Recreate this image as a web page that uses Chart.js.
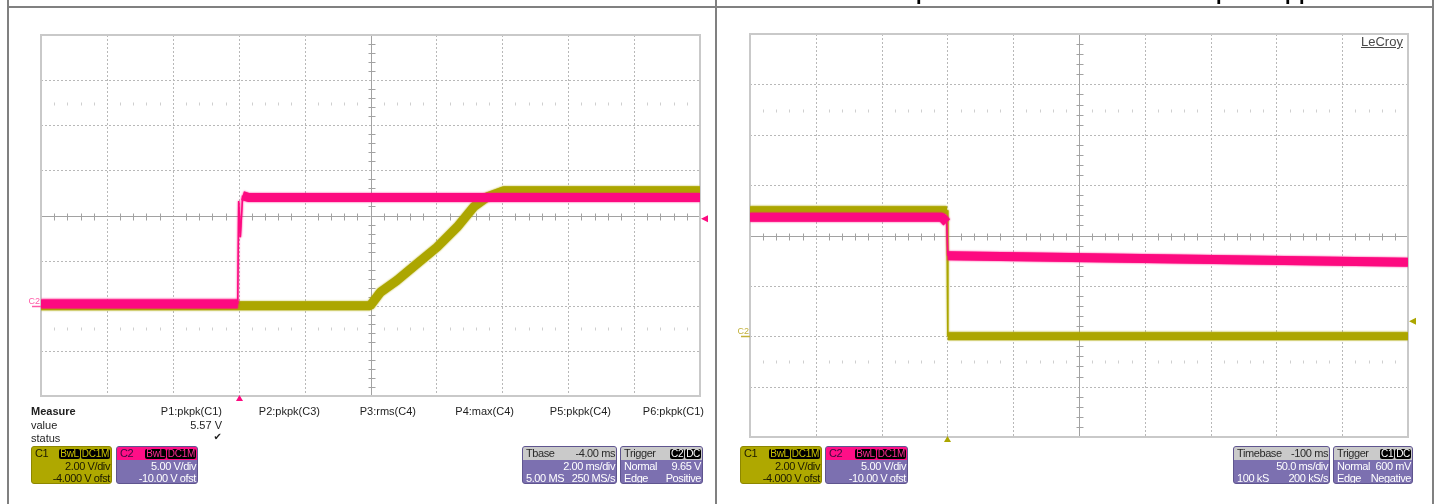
<!DOCTYPE html>
<html>
<head>
<meta charset="utf-8">
<title>Scope captures</title>
<script src="https://cdn.jsdelivr.net/npm/chart.js@4.4.1/dist/chart.umd.min.js"></script>
<style>
  body { margin: 0; background: #fff; }
  #page { position: relative; width: 1437px; height: 504px; overflow: hidden; font-family: "Liberation Sans", Arial, sans-serif; }
  canvas { position: absolute; top: 0; }
  .rule { position: absolute; background: #808080; }
  .head { position: absolute; top: 0; left: 0; width: 1437px; height: 5px; overflow: hidden; }
  .head span { position: absolute; top: -17px; font: bold 20px "Liberation Sans", Arial, sans-serif; line-height: 20px; color: #000; }
  .m { position: absolute; font-size: 11px; line-height: 12px; color: #1e1e1e; white-space: nowrap; }
  .m.r { text-align: right; }
  .logo { position: absolute; left: 1361px; top: 35px; font-size: 13px; line-height: 14px; color: #4a4a4a; text-decoration: underline; background: #fff; }
  .box { position: absolute; top: 446px; height: 38px; box-sizing: border-box; border-radius: 3px; overflow: hidden;
         font-size: 11px; letter-spacing: -0.4px; color: #fff; }
  .box .hd, .box .rw { display: flex; justify-content: space-between; align-items: center; padding: 0 1px 0 3px; white-space: nowrap; }
  .box .hd { height: 13px; line-height: 13px; }
  .box .rw { height: 12px; line-height: 12px; }
  .box .end { justify-content: flex-end; }
  .tag { display: inline-block; background: #000; border-radius: 2px; padding: 0 1px; margin-left: 1px; font-size: 10px; line-height: 10px; letter-spacing: -0.3px; }
  .ch1 { background: #afa800; border: 1px solid #8d8700; color: #1c1a00; }
  .ch1 .tag { color: #c9c000; }
  .ch2 { background: #7c70b0; border: 1px solid #5f558f; }
  .ch2 .hd { background: #ff0f87; color: #3a0a3e; }
  .ch2 .tag { color: #ff2a95; }
  .info { background: #7c70b0; border: 1px solid #5f558f; }
  .info .hd { background: #cacaca; color: #2a2a2a; }
  .info .tag { color: #fff; }
</style>
</head>
<body>
<div id="page">
  <canvas id="scopeLeft" width="716" height="504" style="left:0"></canvas>
  <canvas id="scopeRight" width="720" height="504" style="left:717px"></canvas>

  <div class="head"><span style="left:916px">p</span><span style="left:1216px">p</span><span style="left:1285px">p</span><span style="left:1299px">p</span></div>
  <div class="rule" style="left:7px;top:6px;width:1427px;height:2px"></div>
  <div class="rule" style="left:7px;top:0;width:2px;height:504px"></div>
  <div class="rule" style="left:715px;top:0;width:2px;height:504px"></div>
  <div class="rule" style="left:1432px;top:0;width:2px;height:504px"></div>

  <div class="logo">LeCroy</div>

  <!-- measurement table, left capture -->
  <div class="m" style="left:31px;top:405px;font-weight:bold">Measure</div>
  <div class="m" style="left:31px;top:419px">value</div>
  <div class="m" style="left:31px;top:432px">status</div>
  <div class="m r" style="left:142px;width:80px;top:405px">P1:pkpk(C1)</div>
  <div class="m r" style="left:142px;width:80px;top:419px">5.57 V</div>
  <div class="m r" style="left:142px;width:80px;top:431px;font-family:'DejaVu Sans';font-size:10px">&#10004;</div>
  <div class="m r" style="left:240px;width:80px;top:405px">P2:pkpk(C3)</div>
  <div class="m r" style="left:336px;width:80px;top:405px">P3:rms(C4)</div>
  <div class="m r" style="left:434px;width:80px;top:405px">P4:max(C4)</div>
  <div class="m r" style="left:531px;width:80px;top:405px">P5:pkpk(C4)</div>
  <div class="m r" style="left:624px;width:80px;top:405px">P6:pkpk(C1)</div>

  <!-- channel / timebase / trigger boxes, left capture -->
  <div class="box ch1" style="left:31px;width:81px">
    <div class="hd"><span>C1</span><span><span class="tag">BwL</span><span class="tag">DC1M</span></span></div>
    <div class="rw end">2.00 V/div</div>
    <div class="rw end">-4.000 V ofst</div>
  </div>
  <div class="box ch2" style="left:116px;width:82px">
    <div class="hd"><span>C2</span><span><span class="tag">BwL</span><span class="tag">DC1M</span></span></div>
    <div class="rw end">5.00 V/div</div>
    <div class="rw end">-10.00 V ofst</div>
  </div>
  <div class="box info" style="left:522px;width:95px">
    <div class="hd"><span>Tbase</span><span>-4.00 ms</span></div>
    <div class="rw end">2.00 ms/div</div>
    <div class="rw"><span>5.00 MS</span><span>250 MS/s</span></div>
  </div>
  <div class="box info" style="left:620px;width:83px">
    <div class="hd"><span>Trigger</span><span><span class="tag">C2</span><span class="tag">DC</span></span></div>
    <div class="rw"><span>Normal</span><span>9.65 V</span></div>
    <div class="rw"><span>Edge</span><span>Positive</span></div>
  </div>

  <!-- channel / timebase / trigger boxes, right capture -->
  <div class="box ch1" style="left:740px;width:82px">
    <div class="hd"><span>C1</span><span><span class="tag">BwL</span><span class="tag">DC1M</span></span></div>
    <div class="rw end">2.00 V/div</div>
    <div class="rw end">-4.000 V ofst</div>
  </div>
  <div class="box ch2" style="left:825px;width:83px">
    <div class="hd"><span>C2</span><span><span class="tag">BwL</span><span class="tag">DC1M</span></span></div>
    <div class="rw end">5.00 V/div</div>
    <div class="rw end">-10.00 V ofst</div>
  </div>
  <div class="box info" style="left:1233px;width:97px">
    <div class="hd"><span>Timebase</span><span>-100 ms</span></div>
    <div class="rw end">50.0 ms/div</div>
    <div class="rw"><span>100 kS</span><span>200 kS/s</span></div>
  </div>
  <div class="box info" style="left:1333px;width:80px">
    <div class="hd"><span>Trigger</span><span><span class="tag">C1</span><span class="tag">DC</span></span></div>
    <div class="rw"><span>Normal</span><span>600 mV</span></div>
    <div class="rw"><span>Edge</span><span>Negative</span></div>
  </div>
</div>

<script>
// ---- left capture: 2 ms/div, time in ms relative to trigger ----
const leftTimeRange = [-6, 14];
const leftC1Time  = [-6, 3.99, 4.3, 4.8, 5.41, 6.02, 6.63, 7.14, 7.55, 8.05, 14];
const leftC1Volts = [0, 0, 0.6, 1.12, 1.86, 2.6, 3.49, 4.39, 4.83, 5.1, 5.1];
const leftC2Time  = [-6, -0.03, 0, 0.05, 0.12, 0.3, 14];
const leftC2Volts = [0.2, 0.2, 11.6, 7.6, 12.2, 12.0, 12.0];
const leftTrigger = { time: 0, level: 9.65, channel: 'C2' };

// ---- right capture: 50 ms/div ----
const rightTimeRange = [-150, 350];
const rightC1Time  = [-150, -0.3, 0.3, 350];
const rightC1Volts = [5.0, 5.0, 0.0, 0.0];
const rightC2Time  = [-150, -4, -0.5, 0.3, 350];
const rightC2Volts = [11.8, 11.8, 11.3, 8.0, 7.35];
const rightTrigger = { time: 0, level: 0.6, channel: 'C1' };

// vertical settings (V/div, offset) -> 8 divisions
const c1Range = [-4, 12];
const c2Range = [-10, 30];

const OLIVE = '#aca600';
const MAGENTA = '#fd0a80';

function zip(xs, ys) {
  return xs.map((x, i) => ({ x: x, y: ys[i] }));
}

// thick noisy band, but thin on the fast edges
function bandWidth(c, band) {
  const dx = Math.abs(c.p1.x - c.p0.x), dy = Math.abs(c.p1.y - c.p0.y);
  return dy > 4 * dx ? 1.5 : band;
}

const scopeGrid = {
  id: 'scopeGrid',
  beforeDatasetsDraw(chart) {
    const { ctx, chartArea: a, scales } = chart;
    const x = scales.x, y = scales.y;
    const xDiv = (x.max - x.min) / 10, yDiv = (y.max - y.min) / 8;
    const px = v => Math.round(x.getPixelForValue(v)) + 0.5;
    const py = v => Math.round(y.getPixelForValue(v)) + 0.5;
    const seg = (x0, y0, x1, y1) => { ctx.beginPath(); ctx.moveTo(x0, y0); ctx.lineTo(x1, y1); ctx.stroke(); };

    ctx.save();
    ctx.lineWidth = 1;
    // dotted major divisions
    ctx.strokeStyle = '#b8b8b8';
    ctx.setLineDash([2, 2]);
    for (let i = 1; i < 10; i++) if (i !== 5) seg(px(x.min + i * xDiv), a.top, px(x.min + i * xDiv), a.bottom);
    for (let j = 1; j < 8; j++) if (j !== 4) seg(a.left, py(y.min + j * yDiv), a.right, py(y.min + j * yDiv));
    ctx.setLineDash([]);

    // centre axes with minor ticks
    const cx = px(x.min + 5 * xDiv), cy = py(y.min + 4 * yDiv);
    ctx.strokeStyle = '#a2a2a2';
    seg(cx, a.top, cx, a.bottom);
    seg(a.left, cy, a.right, cy);
    for (let k = 1; k < 50; k++) {
      if (k % 5 === 0) continue;
      const tx = px(x.min + k * xDiv / 5);
      seg(tx, cy - 3, tx, cy + 4);
    }
    for (let k = 1; k < 40; k++) {
      if (k % 5 === 0) continue;
      const ty = py(y.min + k * yDiv / 5);
      seg(cx - 3, ty, cx + 4, ty);
    }
    // faint marker rows half way between divisions
    ctx.strokeStyle = '#cfcfcf';
    [y.min + 1.5 * yDiv, y.min + 6.5 * yDiv].forEach(v => {
      const ry = py(v);
      for (let k = 1; k < 50; k++) {
        if (k % 5 === 0) continue;
        const tx = px(x.min + k * xDiv / 5);
        seg(tx, ry - 1, tx, ry + 2);
      }
    });

    // frame
    ctx.strokeStyle = '#c9c9c9';
    ctx.lineWidth = 2;
    ctx.strokeRect(a.left, a.top, a.right - a.left, a.bottom - a.top);
    ctx.restore();
  }
};

// soft fringe round each trace, like the noise on the real capture
const traceFringe = {
  id: 'traceFringe',
  beforeDatasetDraw(chart, args) {
    const ctx = chart.ctx;
    ctx.save();
    ctx.shadowColor = args.meta.dataset.options.borderColor;
    ctx.shadowBlur = 2;
  },
  afterDatasetDraw(chart) {
    chart.ctx.restore();
  }
};

const scopeMarks = {
  id: 'scopeMarks',
  afterDatasetsDraw(chart, args, opts) {
    const { ctx, chartArea: a, scales } = chart;
    const trigAxis = opts.trigger.channel === 'C1' ? scales.y : scales.y2;
    const tColor = opts.trigger.channel === 'C1' ? OLIVE : MAGENTA;
    const tx = Math.round(scales.x.getPixelForValue(opts.trigger.time)) + 0.5;
    const ty = trigAxis.getPixelForValue(opts.trigger.level);
    const gy = Math.round(scales.y.getPixelForValue(0)) + 0.5;

    ctx.save();
    ctx.fillStyle = tColor;
    // trigger time (below grid)
    ctx.beginPath();
    ctx.moveTo(tx, a.bottom - 1);
    ctx.lineTo(tx + 3.5, a.bottom + 5);
    ctx.lineTo(tx - 3.5, a.bottom + 5);
    ctx.closePath();
    ctx.fill();
    // trigger level (right of grid)
    ctx.beginPath();
    ctx.moveTo(a.right + 1, ty);
    ctx.lineTo(a.right + 8, ty - 3.5);
    ctx.lineTo(a.right + 8, ty + 3.5);
    ctx.closePath();
    ctx.fill();

    // ground reference marker
    ctx.strokeStyle = opts.groundColor;
    ctx.fillStyle = opts.groundColor;
    ctx.lineWidth = 1.5;
    ctx.beginPath();
    ctx.moveTo(a.left - 9, gy);
    ctx.lineTo(a.left, gy);
    ctx.stroke();
    ctx.font = '9px "Liberation Sans", Arial, sans-serif';
    ctx.textAlign = 'right';
    ctx.textBaseline = 'alphabetic';
    ctx.fillText('C2', a.left - 1, gy - 3);
    ctx.restore();
  }
};

function makeScope(id, spec) {
  const canvas = document.getElementById(id);
  return new Chart(canvas.getContext('2d'), {
    type: 'line',
    data: {
      datasets: [
        {
          label: 'C2',
          data: zip(spec.c2Time, spec.c2Volts),
          yAxisID: 'y2',
          borderColor: MAGENTA,
          borderWidth: spec.c2Band,
          order: 1,
          segment: { borderWidth: c => bandWidth(c, spec.c2Band) }
        },
        {
          label: 'C1',
          data: zip(spec.c1Time, spec.c1Volts),
          yAxisID: 'y',
          borderColor: OLIVE,
          borderWidth: spec.c1Band,
          order: 2,
          segment: { borderWidth: c => bandWidth(c, spec.c1Band) }
        }
      ]
    },
    options: {
      responsive: false,
      animation: false,
      devicePixelRatio: 1,
      layout: { padding: spec.padding },
      elements: { point: { radius: 0 }, line: { tension: 0, borderCapStyle: 'butt', borderJoinStyle: 'bevel' } },
      plugins: {
        legend: { display: false },
        tooltip: { enabled: false },
        scopeMarks: { trigger: spec.trigger, groundColor: spec.groundColor }
      },
      scales: {
        x: { type: 'linear', display: false, min: spec.timeRange[0], max: spec.timeRange[1] },
        y: { display: false, min: c1Range[0], max: c1Range[1] },
        y2: { display: false, min: c2Range[0], max: c2Range[1] }
      }
    },
    plugins: [scopeGrid, traceFringe, scopeMarks]
  });
}

makeScope('scopeLeft', {
  timeRange: leftTimeRange,
  c1Time: leftC1Time, c1Volts: leftC1Volts,
  c2Time: leftC2Time, c2Volts: leftC2Volts,
  c1Band: 9, c2Band: 9,
  trigger: leftTrigger,
  groundColor: '#ff5aa8',
  padding: { left: 41, top: 35, right: 16, bottom: 108 }
});

makeScope('scopeRight', {
  timeRange: rightTimeRange,
  c1Time: rightC1Time, c1Volts: rightC1Volts,
  c2Time: rightC2Time, c2Volts: rightC2Volts,
  c1Band: 8, c2Band: 9,
  trigger: rightTrigger,
  groundColor: '#c2b13a',
  padding: { left: 33, top: 34, right: 29, bottom: 67 }
});
</script>
</body>
</html>
